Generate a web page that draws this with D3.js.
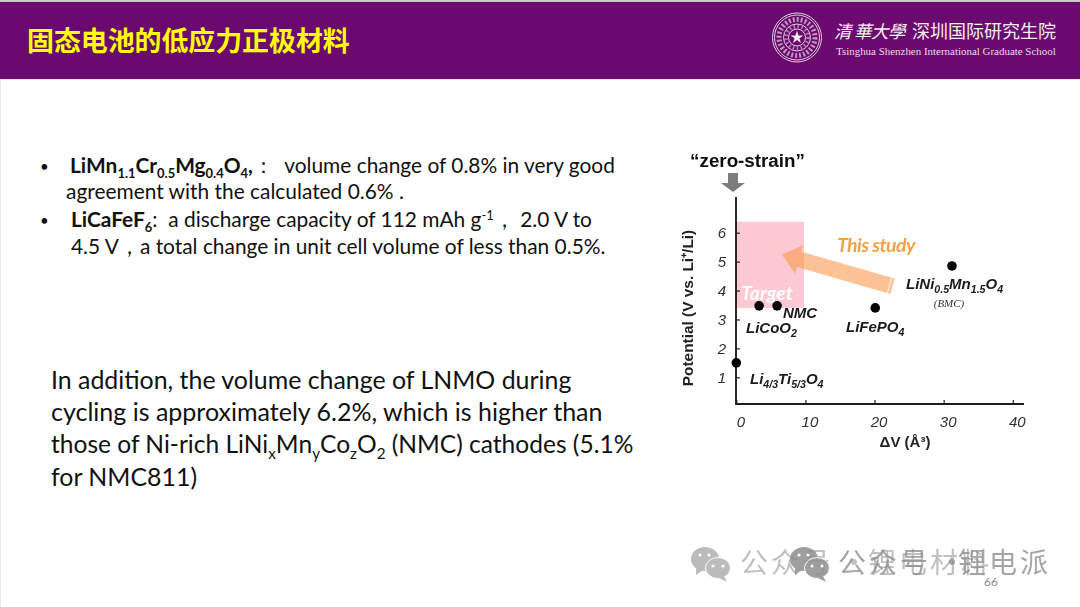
<!DOCTYPE html>
<html>
<head>
<meta charset="utf-8">
<script src="https://cdnjs.cloudflare.com/ajax/libs/d3/7.8.5/d3.min.js"></script>
<style>
html, body { margin: 0; padding: 0; background: #fff; overflow: hidden; }
svg { display: block; }
</style>
</head>
<body>
<div id="slide"></div>
<script>
// values
var xTicks = [0, 10, 20, 30, 40];
var yTicks = [1, 2, 3, 4, 5, 6];
var pointNames = ['Li4/3Ti5/3O4', 'LiCoO2', 'NMC', 'LiFePO4', 'LiNi0.5Mn1.5O4'];
var pointDV = [0, 3.3, 5.9, 20.1, 31.2];
var pointV = [1.5, 3.47, 3.47, 3.4, 4.85];
var targetDV = [0, 9.8];
var targetV = [3.4, 6.38];
var arrowDV = [22.6, 6.6];
var arrowV = [4.15, 5.25];

var titleText = '固态电池的低应力正极材料';
var schoolCn = '深圳国际研究生院';
var schoolCal = '清華大學';
var schoolEn = 'Tsinghua Shenzhen International Graduate School';
var pageNumber = '66';
var markHead = '公众号';
var markDot = '·';
var markTails = ['锂电材料', '锂电派'];

var width = 1080;
var height = 607;

var svg = d3.select('#slide').append('svg')
    .attr('width', width)
    .attr('height', height);

var defs = svg.append('defs');
defs.append('filter').attr('id', 'soft')
    .append('feGaussianBlur').attr('stdDeviation', 0.45);

// header band
svg.append('rect').attr('width', width).attr('height', 2).attr('fill', '#c9c9c9');
svg.append('rect').attr('y', 2).attr('width', width).attr('height', 77).attr('fill', '#6a0a6e');
svg.append('rect').attr('y', 79).attr('width', width).attr('height', 1).attr('fill', '#e4e4e4');
svg.append('rect').attr('y', 80).attr('width', 1).attr('height', height).attr('fill', '#e8e8e8');

svg.append('text')
    .attr('x', 27).attr('y', 51)
    .attr('font-family', '"Noto Sans CJK SC"')
    .attr('font-weight', 700)
    .attr('font-size', 26.9)
    .attr('fill', '#ffff00')
    .text(titleText);

// logo
var logo = svg.append('g').attr('transform', 'translate(797,37.5)').attr('fill', 'none').attr('stroke', '#e2cfe3');
[24.5, 22.5, 13.5, 8.5].forEach(function(r) {
    logo.append('circle').attr('r', r).attr('stroke-width', 1);
});
logo.append('circle').attr('r', 18).attr('stroke-width', 5).attr('stroke-dasharray', '2 2').attr('stroke-opacity', 0.7);
logo.append('circle').attr('r', 11).attr('stroke-width', 3.5).attr('stroke-dasharray', '1.5 2.5').attr('stroke-opacity', 0.6);
logo.append('path')
    .attr('d', d3.symbol(d3.symbolStar, 50)())
    .attr('fill', '#f4ecf4').attr('stroke', 'none');

svg.append('text')
    .attr('x', '834 854 871 888').attr('y', 38)
    .attr('font-family', '"Noto Sans CJK SC"')
    .attr('font-style', 'italic')
    .attr('font-size', 17.5)
    .attr('fill', '#f5eef5')
    .text(schoolCal);
svg.append('text')
    .attr('x', 912).attr('y', 38)
    .attr('font-family', '"Noto Sans CJK SC"')
    .attr('font-size', 18)
    .attr('fill', '#f5eef5')
    .text(schoolCn);
svg.append('text')
    .attr('x', 836).attr('y', 54.5)
    .attr('font-family', '"Liberation Serif"')
    .attr('font-size', 10.95)
    .attr('fill', '#e9dbea')
    .text(schoolEn);

// rich text helper: [string, 'b' | 'sub' | 'bsub' | 'sup' | '']
function rich(x, y, size, segs) {
    var t = svg.append('text')
        .attr('x', x).attr('y', y)
        .attr('font-family', 'Lato')
        .attr('font-size', size)
        .attr('fill', '#111');
    var shift = 0;
    segs.forEach(function(s) {
        var style = s[1] || '';
        var dy = style.indexOf('sub') >= 0 ? size * 0.24 : style == 'sup' ? -size * 0.33 : 0;
        t.append('tspan')
            .attr('dy', dy - shift)
            .attr('font-size', dy ? size * 0.62 : size)
            .attr('font-weight', style.charAt(0) == 'b' ? 700 : 400)
            .text(s[0]);
        shift = dy;
    });
}

rich(40, 172, 15, [['•']]);
rich(70, 173, 20.9, [['LiMn', 'b'], ['1.1', 'bsub'], ['Cr', 'b'], ['0.5', 'bsub'], ['Mg', 'b'], ['0.4', 'bsub'], ['O', 'b'], ['4', 'bsub'], [',', 'b'], ['：\u00a0\u00a0volume change of 0.8% in very good']]);
rich(66, 199, 20.9, [['agreement with the calculated 0.6% .']]);
rich(40, 226, 15, [['•']]);
rich(71, 227, 20.9, [['LiCaFeF', 'b'], ['6', 'bsub'], [':\u00a0\u00a0a discharge capacity of 112 mAh g'], ['-1', 'sup'], ['，\u00a02.0 V to']]);
rich(71, 254, 20.9, [['4.5 V，a total change in unit cell volume of less than 0.5%.']]);

rich(51, 389, 24.9, [['In addition, the volume change of LNMO during']]);
rich(51, 421, 25, [['cycling is approximately 6.2%, which is higher than']]);
rich(51, 453, 24.55, [['those of Ni-rich LiNi'], ['x', 'sub'], ['Mn'], ['y', 'sub'], ['Co'], ['z', 'sub'], ['O'], ['2', 'sub'], [' (NMC) cathodes (5.1%']]);
rich(51, 486, 24.9, [['for NMC811)']]);

// chart
var x = d3.scaleLinear().domain([0, 40]).range([736.3, 1012.8]);
var y = d3.scaleLinear().domain([1, 6]).range([377.3, 232.7]);

var chart = svg.append('g').attr('filter', 'url(#soft)');

chart.append('rect')
    .attr('x', x(targetDV[0]))
    .attr('y', y(targetV[1]))
    .attr('width', x(targetDV[1]) - x(targetDV[0]))
    .attr('height', y(targetV[0]) - y(targetV[1]))
    .attr('fill', '#fdc9d3');

chart.append('text')
    .attr('x', 741).attr('y', 300)
    .attr('font-family', 'Lato').attr('font-style', 'italic').attr('font-weight', 700)
    .attr('font-size', 19.5)
    .attr('fill', '#fff')
    .text('Target');

// arrow
var tail = [x(arrowDV[0]), y(arrowV[0])];
var tip = [x(arrowDV[1]), y(arrowV[1])];
var ang = Math.atan2(tip[1] - tail[1], tip[0] - tail[0]);
var len = Math.hypot(tip[0] - tail[0], tip[1] - tail[1]);
var arrow = chart.append('g')
    .attr('transform', 'translate(' + tail + ') rotate(' + ang * 180 / Math.PI + ')');
arrow.append('path')
    .attr('d', d3.line()([[0, -8], [len - 18, -8], [len - 18, -15], [len, 0], [len - 18, 15], [len - 18, 8], [0, 8]]) + 'Z')
    .attr('fill', '#fb9a4e')
    .attr('fill-opacity', 0.6);
arrow.append('path')
    .attr('d', 'M3,-8L3,8')
    .attr('stroke', '#fff')
    .attr('stroke-width', 0.8);

chart.append('text')
    .attr('x', 837).attr('y', 252)
    .attr('font-family', 'Lato').attr('font-style', 'italic').attr('font-weight', 700)
    .attr('font-size', 19.5)
    .attr('letter-spacing', -0.6)
    .attr('fill', '#f4a24a')
    .text('This study');

// axes
var xAxis = d3.axisBottom(x).tickValues(xTicks).tickFormat(d3.format('d')).tickSize(-4).tickPadding(12).tickSizeOuter(0);
var yAxis = d3.axisLeft(y).tickValues(yTicks).tickFormat(d3.format('d')).tickSize(-4).tickPadding(10).tickSizeOuter(0);

var gx = chart.append('g').attr('transform', 'translate(0,404)').call(xAxis);
var gy = chart.append('g').attr('transform', 'translate(736,0)').call(yAxis);
[gx, gy].forEach(function(g) {
    g.select('.domain').remove();
    g.selectAll('line').attr('stroke', '#222').attr('stroke-width', 1.2);
    g.selectAll('text')
        .attr('font-family', '"Liberation Sans"')
        .attr('font-style', 'italic')
        .attr('font-size', 15)
        .attr('fill', '#333');
});
gx.selectAll('text').attr('dx', 4);

chart.append('path')
    .attr('d', 'M736,197V404H1024')
    .attr('fill', 'none')
    .attr('stroke', '#1c1c1c')
    .attr('stroke-width', 1.9);

chart.selectAll('circle.pt')
    .data(pointDV)
    .enter().append('circle')
    .attr('class', 'pt')
    .attr('cx', function(d) { return x(d); })
    .attr('cy', function(d, i) { return y(pointV[i]); })
    .attr('r', 4.8)
    .attr('fill', '#000');

// point labels
function chem(px, py, segs) {
    var t = chart.append('text')
        .attr('x', px).attr('y', py)
        .attr('font-family', '"Liberation Sans"')
        .attr('font-style', 'italic').attr('font-weight', 700)
        .attr('font-size', 15)
        .attr('fill', '#1a1a1a');
    var last = 0;
    segs.forEach(function(s) {
        var low = s[1] ? 3.5 : 0;
        t.append('tspan')
            .attr('dy', low - last)
            .attr('font-size', s[1] ? 10.6 : 15)
            .text(s[0]);
        last = low;
    });
}
chem(750, 384, [['Li'], ['4/3', 1], ['Ti'], ['5/3', 1], ['O'], ['4', 1]]);
chem(746, 333, [['LiCo'], ['O'], ['2', 1]]);
chem(783, 318, [[pointNames[2]]]);
chem(846, 332, [['LiFePO'], ['4', 1]]);
chem(906, 289, [['LiNi'], ['0.5', 1], ['Mn'], ['1.5', 1], ['O'], ['4', 1]]);

chart.append('text')
    .attr('x', 949).attr('y', 307)
    .attr('text-anchor', 'middle')
    .attr('font-family', '"Liberation Serif"').attr('font-style', 'italic')
    .attr('font-size', 11).attr('fill', '#333')
    .text('(BMC)');

chart.append('text')
    .attr('transform', 'translate(693,308) rotate(-90)')
    .attr('text-anchor', 'middle')
    .attr('font-family', '"Liberation Sans"').attr('font-weight', 700)
    .attr('font-size', 15.4).attr('fill', '#222')
    .text('Potential  (V vs. Li⁺/Li)');

chart.append('text')
    .attr('x', 905).attr('y', 447)
    .attr('text-anchor', 'middle')
    .attr('font-family', '"Liberation Sans"').attr('font-weight', 700)
    .attr('font-size', 15).attr('fill', '#222')
    .text('ΔV (Å³)');

chart.append('text')
    .attr('x', 747.5).attr('y', 167)
    .attr('text-anchor', 'middle')
    .attr('font-family', '"Liberation Sans"').attr('font-weight', 700)
    .attr('font-size', 18.8).attr('fill', '#111')
    .text('“zero-strain”');

chart.append('path')
    .attr('d', d3.line()([[728, 173], [738, 173], [738, 183], [745, 183], [733, 192], [721, 183], [728, 183]]) + 'Z')
    .attr('fill', '#7d7d7d');

// watermark and page number
function wechat(g, tone) {
    g.append('ellipse').attr('cx', 14).attr('cy', 12).attr('rx', 14).attr('ry', 12).attr('fill', tone);
    g.append('path').attr('d', 'M5,21L5,28L12,23Z').attr('fill', tone);
    g.append('ellipse').attr('cx', 27).attr('cy', 21).attr('rx', 12.5).attr('ry', 10.5).attr('fill', tone).attr('stroke', '#fff');
    g.append('path').attr('d', 'M33,29L36,35L28,31Z').attr('fill', tone);
    [[9, 8], [18, 8], [22, 19], [32, 19]].forEach(function(p) {
        g.append('circle').attr('cx', p[0]).attr('cy', p[1]).attr('r', 1.6).attr('fill', '#fff');
    });
}
[[691, 547, 740, '#b0b0b0', 0, 128], [790, 547, 838, '#8f8f8f', 1, 120]].forEach(function(w) {
    var g = svg.append('g').attr('transform', 'translate(' + w[0] + ',' + w[1] + ')').attr('opacity', 0.85);
    wechat(g, w[3]);
    var t = svg.append('g')
        .attr('filter', 'url(#soft)')
        .attr('font-family', '"Noto Sans CJK SC"')
        .attr('font-size', 28)
        .attr('fill', w[3])
        .attr('fill-opacity', 0.8);
    t.append('text').attr('x', w[2]).attr('y', 573).attr('letter-spacing', 3).text(markHead);
    t.append('text').attr('x', w[2] + 100).attr('y', 573).text(markDot);
    t.append('text').attr('x', w[2] + w[5]).attr('y', 573).attr('letter-spacing', 3).text(markTails[w[4]]);
});
svg.append('text')
    .attr('x', 991).attr('y', 586)
    .attr('text-anchor', 'middle')
    .attr('font-family', 'Lato')
    .attr('font-size', 12)
    .attr('fill', '#8a8a8a')
    .text(pageNumber);
</script>
</body>
</html>
